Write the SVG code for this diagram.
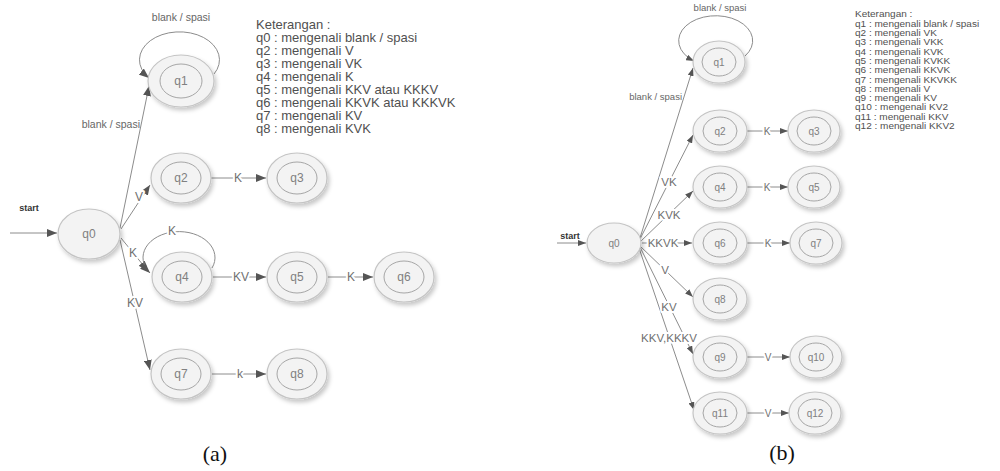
<svg xmlns="http://www.w3.org/2000/svg" width="1000" height="471" viewBox="0 0 1000 471">
<style>
.o{fill:#f3f3f3;stroke:#c4c4c4;stroke-width:1.2;filter:url(#sh)}
.i{fill:none;stroke:#a6a6a6;stroke-width:1}
.nl{font-family:"Liberation Sans",Arial,sans-serif;fill:#808080;text-anchor:middle}
.na{font-size:12px}
.nb{font-size:10px}
.e{fill:none;stroke:#8c8c8c;stroke-width:1}
.ea{marker-end:url(#arA)}
.eb{marker-end:url(#arB)}
.el{font-family:"Liberation Sans",Arial,sans-serif;fill:#707070;text-anchor:middle;paint-order:stroke;stroke:#fff;stroke-width:4;stroke-linejoin:round}
.la{font-size:12px}
.lb{font-size:11.5px}
.sm{font-family:"Liberation Sans",Arial,sans-serif;fill:#666}
.st{font-family:"Liberation Sans",Arial,sans-serif;font-weight:bold;fill:#333;font-size:9px;text-anchor:middle}
.lg{font-family:"Liberation Sans",Arial,sans-serif;fill:#505050}
.cap{font-family:"Liberation Serif","Times New Roman",serif;font-size:22px;fill:#111;text-anchor:middle}
</style>
<defs>
<filter id="sh" x="-30%" y="-30%" width="170%" height="170%">
<feDropShadow dx="2" dy="3" stdDeviation="2" flood-color="#000" flood-opacity="0.22"/>
</filter>
<marker id="arA" markerUnits="userSpaceOnUse" markerWidth="10" markerHeight="8" refX="10" refY="4" orient="auto">
<path d="M0,0 L10,4 L0,8 z" fill="#555"/>
</marker>
<marker id="arB" markerUnits="userSpaceOnUse" markerWidth="8" markerHeight="6" refX="8" refY="3" orient="auto">
<path d="M0,0 L8,3 L0,6 z" fill="#555"/>
</marker>
</defs>
<rect width="1000" height="471" fill="#fff"/>

<!-- ===== Panel (a) ===== -->
<g id="connectors-a">
<line class="e ea" x1="10" y1="233" x2="57" y2="233"/>
<line class="e ea" x1="120" y1="228" x2="149" y2="86"/>
<line class="e ea" x1="121" y1="229" x2="150" y2="185"/>
<line class="e ea" x1="121" y1="238" x2="148" y2="271"/>
<line class="e ea" x1="120" y1="240" x2="150" y2="370"/>
<path class="e ea" d="M214 74 A40 28 0 1 0 149 78"/>
<path class="e ea" d="M212 268 A36 26 0 1 0 150 273"/>
<line class="e ea" x1="211" y1="178" x2="266" y2="178"/>
<line class="e ea" x1="213" y1="277" x2="266" y2="277"/>
<line class="e ea" x1="328" y1="277" x2="373" y2="277"/>
<line class="e ea" x1="212" y1="374" x2="266" y2="374"/>
<text class="st" x="29" y="211">start</text>
<text class="sm" x="140" y="128" font-size="10.5" text-anchor="end">blank / spasi</text>
<text class="sm" x="181" y="21" font-size="10.5" text-anchor="middle">blank / spasi</text>
<text class="el la" x="139" y="201">V</text>
<text class="el la" x="133" y="257">K</text>
<text class="el la" x="135" y="307">KV</text>
<text class="el la" x="172" y="235">K</text>
<text class="el la" x="238" y="182">K</text>
<text class="el la" x="241" y="281">KV</text>
<text class="el la" x="351" y="281">K</text>
<text class="el la" x="240" y="378">k</text>
</g>
<g id="a-q0"><ellipse class="o" cx="89" cy="234" rx="31" ry="25"/><text class="nl na" x="89" y="238">q0</text></g>
<g id="a-q1"><ellipse class="o" cx="181" cy="81" rx="33" ry="26"/><ellipse class="i" cx="181" cy="81" rx="21" ry="17"/><text class="nl na" x="181" y="85">q1</text></g>
<g id="a-q2"><ellipse class="o" cx="181" cy="178" rx="30" ry="25"/><ellipse class="i" cx="181" cy="178" rx="20" ry="16"/><text class="nl na" x="181" y="182">q2</text></g>
<g id="a-q3"><ellipse class="o" cx="297" cy="178" rx="30" ry="25"/><ellipse class="i" cx="297" cy="178" rx="20" ry="16"/><text class="nl na" x="297" y="182">q3</text></g>
<g id="a-q4"><ellipse class="o" cx="182" cy="277" rx="30" ry="25"/><ellipse class="i" cx="182" cy="277" rx="20" ry="16"/><text class="nl na" x="182" y="281">q4</text></g>
<g id="a-q5"><ellipse class="o" cx="297" cy="277" rx="30" ry="25"/><ellipse class="i" cx="297" cy="277" rx="20" ry="16"/><text class="nl na" x="297" y="281">q5</text></g>
<g id="a-q6"><ellipse class="o" cx="404" cy="277" rx="30" ry="25"/><ellipse class="i" cx="404" cy="277" rx="20" ry="16"/><text class="nl na" x="404" y="281">q6</text></g>
<g id="a-q7"><ellipse class="o" cx="181" cy="374" rx="30" ry="25"/><ellipse class="i" cx="181" cy="374" rx="20" ry="16"/><text class="nl na" x="181" y="378">q7</text></g>
<g id="a-q8"><ellipse class="o" cx="297" cy="374" rx="30" ry="25"/><ellipse class="i" cx="297" cy="374" rx="20" ry="16"/><text class="nl na" x="297" y="378">q8</text></g>
<g id="legend-a" class="lg" font-size="13">
<text x="256" y="28.5">Keterangan :</text>
<text x="256" y="41.5">q0 : mengenali blank / spasi</text>
<text x="256" y="54.5">q2 : mengenali V</text>
<text x="256" y="67.5">q3 : mengenali VK</text>
<text x="256" y="80.5">q4 : mengenali K</text>
<text x="256" y="93.5">q5 : mengenali KKV atau KKKV</text>
<text x="256" y="106.5">q6 : mengenali KKVK atau KKKVK</text>
<text x="256" y="119.5">q7 : mengenali KV</text>
<text x="256" y="132.5">q8 : mengenali KVK</text>
</g>
<text class="cap" x="215" y="461">(a)</text>

<!-- ===== Panel (b) ===== -->
<g id="connectors-b">
<line class="e eb" x1="557" y1="243" x2="586" y2="243"/>
<line class="e eb" x1="640" y1="238" x2="693" y2="68"/>
<line class="e eb" x1="640" y1="239" x2="693" y2="135"/>
<line class="e eb" x1="641" y1="241" x2="693" y2="191"/>
<line class="e eb" x1="642" y1="243" x2="692" y2="243"/>
<line class="e eb" x1="640" y1="246" x2="693" y2="297"/>
<line class="e eb" x1="640" y1="247" x2="693" y2="354"/>
<line class="e eb" x1="639" y1="248" x2="694" y2="410"/>
<path class="e eb" d="M745 56 A37 25 0 1 0 694 61"/>
<line class="e eb" x1="747" y1="131" x2="788" y2="131"/>
<line class="e eb" x1="747" y1="187" x2="788" y2="187"/>
<line class="e eb" x1="747" y1="243" x2="790" y2="243"/>
<line class="e eb" x1="747" y1="357" x2="790" y2="357"/>
<line class="e eb" x1="747" y1="413" x2="789" y2="413"/>
<text class="st" x="570" y="239">start</text>
<text class="sm" x="682" y="100" font-size="9.5" text-anchor="end">blank / spasi</text>
<text class="sm" x="720" y="11" font-size="9.5" text-anchor="middle">blank / spasi</text>
<text class="el lb" x="669" y="186" stroke-width="3">VK</text>
<text class="el lb" x="669" y="219" stroke-width="3">KVK</text>
<text class="el lb" x="663" y="247" stroke-width="3">KKVK</text>
<text class="el lb" x="665" y="274" stroke-width="3">V</text>
<text class="el lb" x="669" y="311" stroke-width="3">KV</text>
<text class="el lb" x="669" y="342" stroke-width="3">KKV,KKKV</text>
<text class="el" x="767" y="135" font-size="10" stroke-width="3">K</text>
<text class="el" x="767" y="191" font-size="10" stroke-width="3">K</text>
<text class="el" x="768" y="247" font-size="10" stroke-width="3">K</text>
<text class="el" x="768" y="361" font-size="10" stroke-width="3">V</text>
<text class="el" x="768" y="417" font-size="10" stroke-width="3">V</text>
</g>
<g id="b-q0"><ellipse class="o" cx="614" cy="243" rx="27" ry="20"/><text class="nl nb" x="614" y="247">q0</text></g>
<g id="b-q1"><ellipse class="o" cx="719" cy="62" rx="26" ry="21"/><ellipse class="i" cx="719" cy="62" rx="17" ry="14"/><text class="nl nb" x="719" y="66">q1</text></g>
<g id="b-q2"><ellipse class="o" cx="720" cy="131" rx="27" ry="21"/><ellipse class="i" cx="720" cy="131" rx="17" ry="14"/><text class="nl nb" x="720" y="135">q2</text></g>
<g id="b-q3"><ellipse class="o" cx="814" cy="131" rx="26" ry="21"/><ellipse class="i" cx="814" cy="131" rx="17" ry="14"/><text class="nl nb" x="814" y="135">q3</text></g>
<g id="b-q4"><ellipse class="o" cx="720" cy="187" rx="27" ry="21"/><ellipse class="i" cx="720" cy="187" rx="17" ry="14"/><text class="nl nb" x="720" y="191">q4</text></g>
<g id="b-q5"><ellipse class="o" cx="814" cy="187" rx="26" ry="21"/><ellipse class="i" cx="814" cy="187" rx="17" ry="14"/><text class="nl nb" x="814" y="191">q5</text></g>
<g id="b-q6"><ellipse class="o" cx="720" cy="243" rx="27" ry="21"/><ellipse class="i" cx="720" cy="243" rx="17" ry="14"/><text class="nl nb" x="720" y="247">q6</text></g>
<g id="b-q7"><ellipse class="o" cx="816" cy="243" rx="26" ry="21"/><ellipse class="i" cx="816" cy="243" rx="17" ry="14"/><text class="nl nb" x="816" y="247">q7</text></g>
<g id="b-q8"><ellipse class="o" cx="720" cy="299" rx="27" ry="21"/><ellipse class="i" cx="720" cy="299" rx="17" ry="14"/><text class="nl nb" x="720" y="303">q8</text></g>
<g id="b-q9"><ellipse class="o" cx="720" cy="357" rx="27" ry="21"/><ellipse class="i" cx="720" cy="357" rx="17" ry="14"/><text class="nl nb" x="720" y="361">q9</text></g>
<g id="b-q10"><ellipse class="o" cx="816" cy="357" rx="26" ry="21"/><ellipse class="i" cx="816" cy="357" rx="17" ry="14"/><text class="nl nb" x="816" y="361">q10</text></g>
<g id="b-q11"><ellipse class="o" cx="720" cy="413" rx="27" ry="21"/><ellipse class="i" cx="720" cy="413" rx="17" ry="14"/><text class="nl nb" x="720" y="417">q11</text></g>
<g id="b-q12"><ellipse class="o" cx="815" cy="413" rx="26" ry="21"/><ellipse class="i" cx="815" cy="413" rx="17" ry="14"/><text class="nl nb" x="815" y="417">q12</text></g>
<g id="legend-b" class="lg" font-size="9.2" transform="translate(855 0) scale(1.09 1)">
<text x="0" y="17.5">Keterangan :</text>
<text x="0" y="26.8">q1 : mengenali blank / spasi</text>
<text x="0" y="36.1">q2 : mengenali VK</text>
<text x="0" y="45.4">q3 : mengenali VKK</text>
<text x="0" y="54.7">q4 : mengenali KVK</text>
<text x="0" y="64">q5 : mengenali KVKK</text>
<text x="0" y="73.3">q6 : mengenali KKVK</text>
<text x="0" y="82.6">q7 : mengenali KKVKK</text>
<text x="0" y="91.9">q8 : mengenali V</text>
<text x="0" y="101.2">q9 : mengenali KV</text>
<text x="0" y="110.5">q10 : mengenali KV2</text>
<text x="0" y="119.8">q11 : mengenali KKV</text>
<text x="0" y="129.1">q12 : mengenali KKV2</text>
</g>
<text class="cap" x="782" y="460">(b)</text>
</svg>
